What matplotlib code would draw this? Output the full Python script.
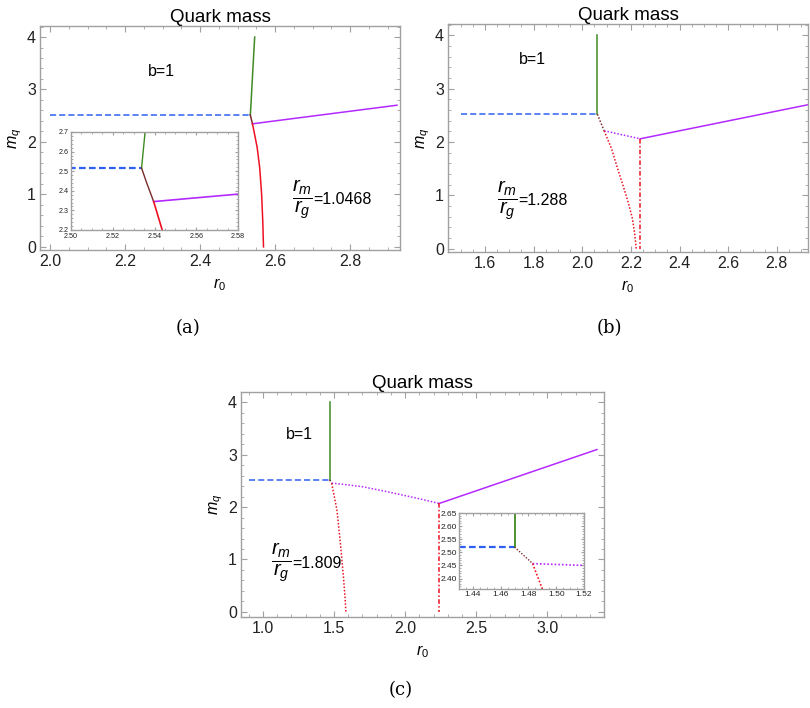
import matplotlib.pyplot as plt
from matplotlib.ticker import MultipleLocator

plt.rcParams['font.family'] = ['Liberation Sans', 'DejaVu Sans']
plt.rcParams['mathtext.fontset'] = 'custom'
plt.rcParams['mathtext.rm'] = 'Liberation Sans'
plt.rcParams['mathtext.it'] = 'Liberation Sans:italic'

# ---- panel (a) data ----
a_blue_x = [2.0, 2.5338]
a_blue_y = [2.516, 2.516]
a_green_x = [2.5338, 2.5355, 2.540, 2.5455]
a_green_y = [2.516, 2.70, 3.30, 4.00]
a_brown_x = [2.5338, 2.5363, 2.5396]
a_brown_y = [2.516, 2.439, 2.345]
a_purple_x = [2.5396, 2.58, 2.925]
a_purple_y = [2.345, 2.383, 2.70]
a_red_x = [2.5396, 2.5437, 2.552, 2.559, 2.564, 2.567, 2.569]
a_red_y = [2.345, 2.20, 1.90, 1.50, 1.00, 0.50, 0.00]
a_ratio = "1.0468"

# ---- panel (b) data ----
b_blue_x = [1.5, 2.062]
b_blue_y = [2.52, 2.52]
b_green_x = [2.062, 2.062]
b_green_y = [2.52, 4.0]
b_brown_x = [2.062, 2.09]
b_brown_y = [2.52, 2.21]
b_pdot_x = [2.09, 2.238]
b_pdot_y = [2.21, 2.06]
b_purple_x = [2.238, 2.93]
b_purple_y = [2.06, 2.70]
b_rdot_x = [2.09, 2.12, 2.144, 2.17, 2.19, 2.206, 2.215, 2.222]
b_rdot_y = [2.21, 1.88, 1.52, 1.15, 0.85, 0.57, 0.30, 0.0]
b_rdd_x = [2.238, 2.238]
b_rdd_y = [2.06, 0.0]
b_ratio = "1.288"

# ---- panel (c) data ----
c_blue_x = [0.9, 1.47]
c_blue_y = [2.52, 2.52]
c_green_x = [1.47, 1.47]
c_green_y = [2.52, 4.0]
c_brown_x = [1.47, 1.483]
c_brown_y = [2.52, 2.457]
c_pdot_x = [1.483, 1.52, 1.7, 1.9, 2.1, 2.24]
c_pdot_y = [2.457, 2.45, 2.39, 2.28, 2.16, 2.07]
c_purple_x = [2.24, 3.35]
c_purple_y = [2.07, 3.10]
c_rdot_x = [1.483, 1.49, 1.52, 1.545, 1.565, 1.578, 1.583]
c_rdot_y = [2.457, 2.36, 1.95, 1.30, 0.70, 0.25, 0.0]
c_rdd_x = [2.24, 2.24]
c_rdd_y = [2.07, 0.0]
c_ratio = "1.809"

BLUE = '#2f5ff0'
GREEN = '#3f8a22'
BROWN = '#7a2a2a'
PURPLE = '#b429ff'
RED = '#ee1122'
FRAME = '#a0a0a0'
DOT = (0, (1, 1.2))
DASHDOT = (0, (3, 1.5, 1, 1.5))

W, H = 810, 708
fig = plt.figure(figsize=(W / 100, H / 100), dpi=100)


def px_axes(left, top, right, bottom):
    return fig.add_axes([left / W, 1 - bottom / H, (right - left) / W, (bottom - top) / H])


def style(ax, xmaj, xmin, ymaj, ymin, fs, mlen=4):
    for s in ax.spines.values():
        s.set_color(FRAME)
        s.set_linewidth(1.0)
    ax.xaxis.set_major_locator(MultipleLocator(xmaj))
    ax.xaxis.set_minor_locator(MultipleLocator(xmin))
    ax.yaxis.set_major_locator(MultipleLocator(ymaj))
    ax.yaxis.set_minor_locator(MultipleLocator(ymin))
    ax.tick_params(which='both', direction='in', top=True, right=True, color=FRAME,
                   labelsize=fs, labelcolor='#222222')
    ax.tick_params(which='major', length=mlen, pad=3)
    ax.tick_params(which='minor', length=mlen / 2)


def labels(ax, bx, by, rx, ry, ratio):
    ax.text(bx, by, "b=1", fontsize=11.5, ha='center', va='center')
    ax.text(rx, ry, r'$\dfrac{r_m}{r_g}$', fontsize=14.5, ha='right', va='center')
    ax.text(rx, ry, '=' + ratio, fontsize=11.5, ha='left', va='center')
    ax.set_title("Quark mass", fontsize=13.5, pad=3)
    ax.set_xlabel(r'$r_0$', fontsize=11.5, labelpad=5)
    ax.set_ylabel(r'$m_q$', fontsize=11.5, labelpad=2)
    ax.xaxis.set_major_formatter(plt.FuncFormatter(lambda v, p: f"{v:.1f}"))


lw = 1.1

# ---------------- (a) ----------------
ax = px_axes(40, 26, 400, 250)
ax.plot(a_blue_x, a_blue_y, color=BLUE, lw=lw, dashes=(4, 2))
ax.plot(a_green_x, a_green_y, color=GREEN, lw=lw)
ax.plot(a_brown_x, a_brown_y, color=BROWN, lw=lw)
ax.plot(a_purple_x, a_purple_y, color=PURPLE, lw=lw)
ax.plot(a_red_x, a_red_y, color=RED, lw=lw)
ax.set_xlim(1.973, 2.933)
ax.set_ylim(-0.06, 4.21)
ax.set_yticks([0, 1, 2, 3, 4])
style(ax, 0.2, 0.05, 1, 0.2, 11.5)
labels(ax, 2.298, 3.35, 2.701, 0.9, a_ratio)

ins = px_axes(71, 132, 238, 230)
ins.plot(a_blue_x, a_blue_y, color=BLUE, lw=1.6, dashes=(3, 1.5))
ins.plot(a_green_x, a_green_y, color=GREEN, lw=1.0)
ins.plot(a_brown_x, a_brown_y, color=BROWN, lw=1.0)
ins.plot(a_purple_x, a_purple_y, color=PURPLE, lw=1.2)
ins.plot(a_red_x, a_red_y, color=RED, lw=1.2)
ins.set_xlim(2.50, 2.58)
ins.set_ylim(2.2, 2.7)
style(ins, 0.02, 0.005, 0.1, 0.02, 5.2, mlen=2.5)
ins.xaxis.set_major_formatter(plt.FuncFormatter(lambda v, p: f"{v:.2f}"))
ins.yaxis.set_major_formatter(plt.FuncFormatter(lambda v, p: f"{v:.1f}"))
ins.tick_params(axis='x', pad=2.2)
ins.tick_params(axis='y', pad=1.5)

# ---------------- (b) ----------------
ax = px_axes(448, 24, 808, 252)
ax.plot(b_blue_x, b_blue_y, color=BLUE, lw=lw, dashes=(4, 2))
ax.plot(b_green_x, b_green_y, color=GREEN, lw=lw)
ax.plot(b_brown_x, b_brown_y, color=BROWN, lw=lw, ls=DOT)
ax.plot(b_pdot_x, b_pdot_y, color=PURPLE, lw=lw, ls=DOT)
ax.plot(b_purple_x, b_purple_y, color=PURPLE, lw=lw)
ax.plot(b_rdot_x, b_rdot_y, color=RED, lw=lw, ls=DOT)
ax.plot(b_rdd_x, b_rdd_y, color=RED, lw=lw, ls=DASHDOT)
ax.set_xlim(1.448, 2.928)
ax.set_ylim(-0.06, 4.21)
ax.set_yticks([0, 1, 2, 3, 4])
style(ax, 0.2, 0.05, 1, 0.2, 11.5)
labels(ax, 1.795, 3.54, 1.736, 0.9, b_ratio)

# ---------------- (c) ----------------
ax = px_axes(241, 392, 604, 617)
ax.plot(c_blue_x, c_blue_y, color=BLUE, lw=lw, dashes=(4, 2))
ax.plot(c_green_x, c_green_y, color=GREEN, lw=lw)
ax.plot(c_brown_x, c_brown_y, color=BROWN, lw=lw, ls=DOT)
ax.plot(c_pdot_x, c_pdot_y, color=PURPLE, lw=lw, ls=DOT)
ax.plot(c_purple_x, c_purple_y, color=PURPLE, lw=lw)
ax.plot(c_rdot_x, c_rdot_y, color=RED, lw=lw, ls=DOT)
ax.plot(c_rdd_x, c_rdd_y, color=RED, lw=lw, ls=DASHDOT)
ax.set_xlim(0.845, 3.40)
ax.set_ylim(-0.1, 4.2)
ax.set_yticks([0, 1, 2, 3, 4])
style(ax, 0.5, 0.1, 1, 0.2, 11.5)
labels(ax, 1.253, 3.38, 1.204, 0.93, c_ratio)

ins = px_axes(459, 513, 584, 589)
ins.plot(c_blue_x, c_blue_y, color=BLUE, lw=1.6, dashes=(3, 1.5))
ins.plot(c_green_x, c_green_y, color=GREEN, lw=1.3)
ins.plot(c_brown_x, c_brown_y, color=BROWN, lw=1.0, ls=DOT)
ins.plot(c_pdot_x, c_pdot_y, color=PURPLE, lw=1.2, ls=DOT)
ins.plot(c_rdot_x, c_rdot_y, color=RED, lw=1.2, ls=DOT)
ins.set_xlim(1.43, 1.52)
ins.set_ylim(2.36, 2.65)
style(ins, 0.02, 0.005, 0.05, 0.01, 6, mlen=2.5)
ins.xaxis.set_major_formatter(plt.FuncFormatter(lambda v, p: f"{v:.2f}"))
ins.yaxis.set_major_formatter(plt.FuncFormatter(lambda v, p: f"{v:.2f}"))
ins.tick_params(pad=1.5)

# panel captions
for x, y, s in [(188, 328, "(a)"), (609, 328, "(b)"), (401, 690, "(c)")]:
    fig.text(x / W, 1 - y / H, s, fontsize=13, family=['DejaVu Serif'], ha='center', va='center')

fig.savefig("out.png", dpi=100)
